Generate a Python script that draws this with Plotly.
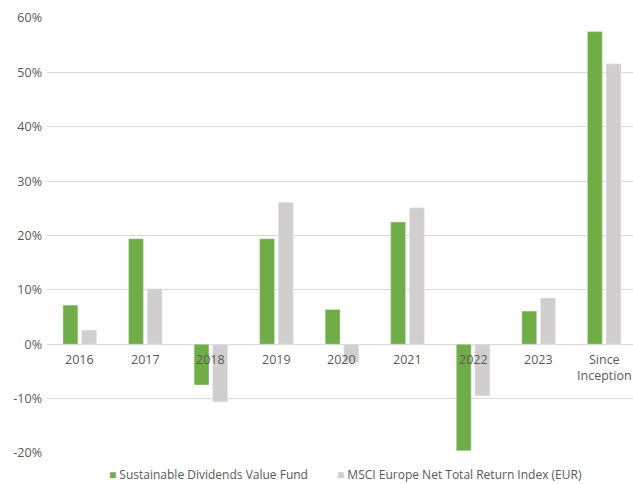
import plotly.graph_objects as go

categories = ["2016", "2017", "2018", "2019", "2020", "2021", "2022", "2023", "Since<br>Inception"]
fund = [7.2, 19.4, -7.5, 19.4, 6.4, 22.5, -19.6, 6.1, 57.5]
index = [2.6, 10.2, -10.6, 26.1, -3.3, 25.1, -9.5, 8.5, 51.6]
fund_name = "Sustainable Dividends Value Fund"
index_name = "MSCI Europe Net Total Return Index (EUR)"
y_ticks = [-20, -10, 0, 10, 20, 30, 40, 50, 60]
y_labels = [f"{v}%" for v in y_ticks]

FONT = "Open Sans"
TXT = "#595959"
GREEN = "#70AD47"
GREY = "#D0CECE"

fig = go.Figure()
fig.add_trace(go.Bar(x=categories, y=fund, name=fund_name, marker_color=GREEN, showlegend=False))
fig.add_trace(go.Bar(x=categories, y=index, name=index_name, marker_color=GREY, showlegend=False))

for i, c in enumerate(categories):
    fig.add_annotation(x=i, y=0, xref="x", yref="y", text=c, showarrow=False,
                       yanchor="top", yshift=-5, font=dict(family=FONT, size=12.5, color=TXT))

# legend drawn as annotations
fig.add_annotation(x=0.104, y=-0.049, xref="paper", yref="paper", xanchor="left", yanchor="middle",
                   showarrow=False, borderpad=0, text=f"<span style='color:{GREEN}'>■</span> {fund_name}",
                   font=dict(family=FONT, size=12, color=TXT))
fig.add_annotation(x=0.494, y=-0.049, xref="paper", yref="paper", xanchor="left", yanchor="middle",
                   showarrow=False, borderpad=0, text=f"<span style='color:{GREY}'>■</span> {index_name}",
                   font=dict(family=FONT, size=12, color=TXT))

fig.update_layout(
    width=633, height=484,
    margin=dict(l=47, r=0, t=18, b=31, autoexpand=False),
    paper_bgcolor="white", plot_bgcolor="white",
    barmode="group", bargap=0.43, bargroupgap=0.2,
    font=dict(family=FONT, size=12, color=TXT),
    showlegend=False,
    xaxis=dict(type="category", showticklabels=False, showgrid=False, zeroline=False, showline=False,
               range=[-0.5, 8.44], ticks="", automargin=False),
    yaxis=dict(range=[-20, 60], tickvals=y_ticks, ticktext=y_labels, showgrid=True,
               gridcolor="#D9D9D9", gridwidth=1, zeroline=True, zerolinecolor="#D9D9D9",
               zerolinewidth=1, showline=False, ticks="", automargin=False, ticklabelstandoff=4,
               tickfont=dict(family=FONT, size=12.5, color=TXT)),
)

fig.write_html("out.html", config={"displayModeBar": False},
               post_script="document.body.style.margin='0';document.body.style.overflow='hidden';")
